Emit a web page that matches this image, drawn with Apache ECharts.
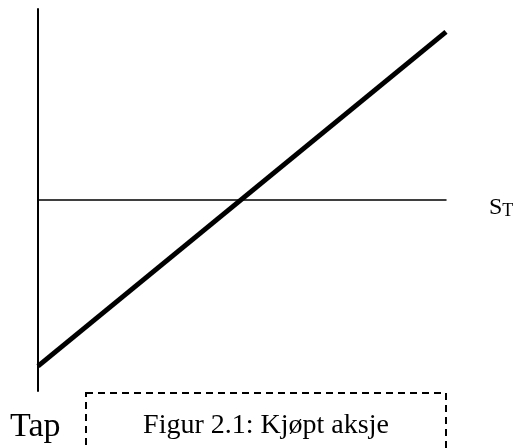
<!DOCTYPE html>
<html>
<head>
<meta charset="utf-8">
<style>
  html, body { margin: 0; padding: 0; background: #fff; }
  #chart { width: 519px; height: 448px; }
</style>
<script src="https://cdn.jsdelivr.net/npm/echarts@6/dist/echarts.min.js"></script>
</head>
<body>
<div id="chart"></div>
<script>
  // aksjekurs ved forfall (S_T) og gevinst/tap for kjøpt aksje
  const kurs = [0, 100];
  const gevinst = [-87, 88];
  const xRange = [0, 100];
  const yRange = [-100, 100];
  const caption = 'Figur 2.1: Kjøpt aksje';

  const font = '"Liberation Serif", "DejaVu Serif", serif';
  const chart = echarts.init(document.getElementById('chart'));

  chart.setOption({
    animation: false,
    grid: { left: 38, right: 73, top: 9, bottom: 57 },
    xAxis: {
      type: 'value',
      min: xRange[0],
      max: xRange[1],
      axisLine: { onZero: true, lineStyle: { color: '#000', width: 1.5 } },
      axisTick: { show: false },
      axisLabel: { show: false },
      splitLine: { show: false }
    },
    yAxis: {
      type: 'value',
      min: yRange[0],
      max: yRange[1],
      axisLine: { onZero: false, lineStyle: { color: '#000', width: 2 } },
      axisTick: { show: false },
      axisLabel: { show: false },
      splitLine: { show: false }
    },
    series: [{
      type: 'line',
      data: kurs.map((x, i) => [x, gevinst[i]]),
      symbol: 'none',
      lineStyle: { color: '#000', width: 5, cap: 'butt' }
    }],
    graphic: [
      {
        type: 'text',
        x: 489,
        y: 220,
        style: {
          text: '{s|S}{t|T}',
          fill: '#000',
          verticalAlign: 'bottom',
          rich: {
            s: { font: '24px ' + font, fill: '#000', verticalAlign: 'bottom' },
            t: { font: '18px ' + font, fill: '#000', verticalAlign: 'bottom' }
          }
        }
      },
      {
        type: 'text',
        x: 10,
        y: 427,
        style: { text: 'Tap', font: '34px ' + font, fill: '#000', verticalAlign: 'middle' }
      },
      {
        type: 'rect',
        shape: { x: 86, y: 393, width: 360, height: 80 },
        style: { fill: 'none', stroke: '#000', lineWidth: 2, lineDash: [7, 5] }
      },
      {
        type: 'text',
        x: 266,
        y: 426,
        style: {
          text: caption,
          font: '28px ' + font,
          fill: '#000',
          align: 'center',
          verticalAlign: 'middle'
        }
      }
    ]
  });
</script>
</body>
</html>
